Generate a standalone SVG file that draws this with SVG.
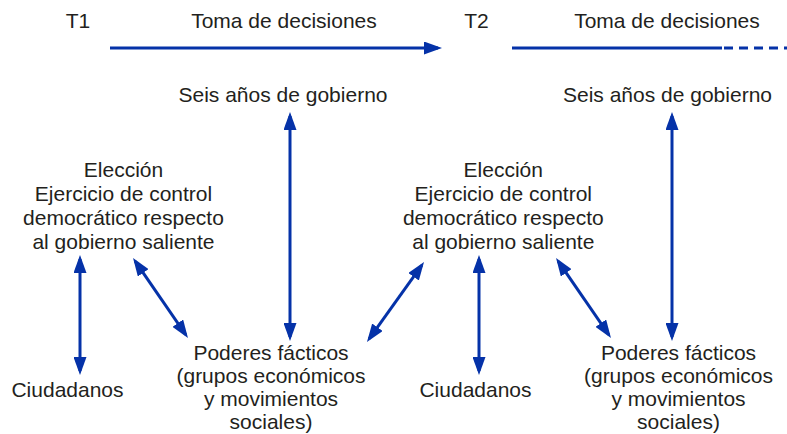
<svg xmlns="http://www.w3.org/2000/svg" width="787" height="434" viewBox="0 0 787 434">
<style>
text{font-family:"Liberation Sans",Arial,sans-serif;font-size:21px;fill:#231f20;text-anchor:middle}
.c{stroke:#0532a8;stroke-width:3;fill:none}
.d{marker-start:url(#ah);marker-end:url(#ah)}
</style>
<defs>
<marker id="ah" markerUnits="userSpaceOnUse" markerWidth="18" markerHeight="13" viewBox="0 0 18 13" refX="14" refY="6.5" orient="auto-start-reverse">
<path d="M0,0 L18,6.5 L0,13 z" fill="#0532a8"/>
</marker>
</defs>
<rect width="787" height="434" fill="#fff"/>
<g id="connectors">
<line class="c" x1="110" y1="48" x2="438" y2="48" marker-end="url(#ah)"/>
<line class="c" x1="512" y1="48" x2="722" y2="48"/>
<line class="c" x1="724" y1="48" x2="787" y2="48" stroke-dasharray="9 6"/>
<line class="c d" x1="290" y1="116" x2="290" y2="337"/>
<line class="c d" x1="672" y1="116" x2="672" y2="337"/>
<line class="c d" x1="80" y1="259" x2="80" y2="371"/>
<line class="c d" x1="479" y1="259" x2="479" y2="371"/>
<line class="c d" x1="135.3" y1="261.3" x2="185.7" y2="334.7"/>
<line class="c d" x1="421.7" y1="265.3" x2="369.3" y2="338.7"/>
<line class="c d" x1="558.3" y1="261.3" x2="608.7" y2="334.7"/>
</g>
<g id="t1"><text x="78" y="28">T1</text></g>
<g id="toma1"><text x="284" y="28">Toma de decisiones</text></g>
<g id="t2"><text x="476.5" y="28">T2</text></g>
<g id="toma2"><text x="667" y="28">Toma de decisiones</text></g>
<g id="seis1"><text x="283" y="102">Seis años de gobierno</text></g>
<g id="seis2"><text x="667.5" y="102">Seis años de gobierno</text></g>
<g id="eleccion1">
<text x="123.5" y="177">Elección</text>
<text x="123.5" y="201">Ejercicio de control</text>
<text x="123.5" y="225">democrático respecto</text>
<text x="123.5" y="249">al gobierno saliente</text>
</g>
<g id="eleccion2">
<text x="503.3" y="177">Elección</text>
<text x="503.3" y="201">Ejercicio de control</text>
<text x="503.3" y="225">democrático respecto</text>
<text x="503.3" y="249">al gobierno saliente</text>
</g>
<g id="ciudadanos1"><text x="67.5" y="397">Ciudadanos</text></g>
<g id="ciudadanos2"><text x="475.5" y="397">Ciudadanos</text></g>
<g id="poderes1">
<text x="271" y="360">Poderes fácticos</text>
<text x="271" y="383">(grupos económicos</text>
<text x="271" y="406">y movimientos</text>
<text x="271" y="429">sociales)</text>
</g>
<g id="poderes2">
<text x="678.5" y="360">Poderes fácticos</text>
<text x="678.5" y="383">(grupos económicos</text>
<text x="678.5" y="406">y movimientos</text>
<text x="678.5" y="429">sociales)</text>
</g>
</svg>
